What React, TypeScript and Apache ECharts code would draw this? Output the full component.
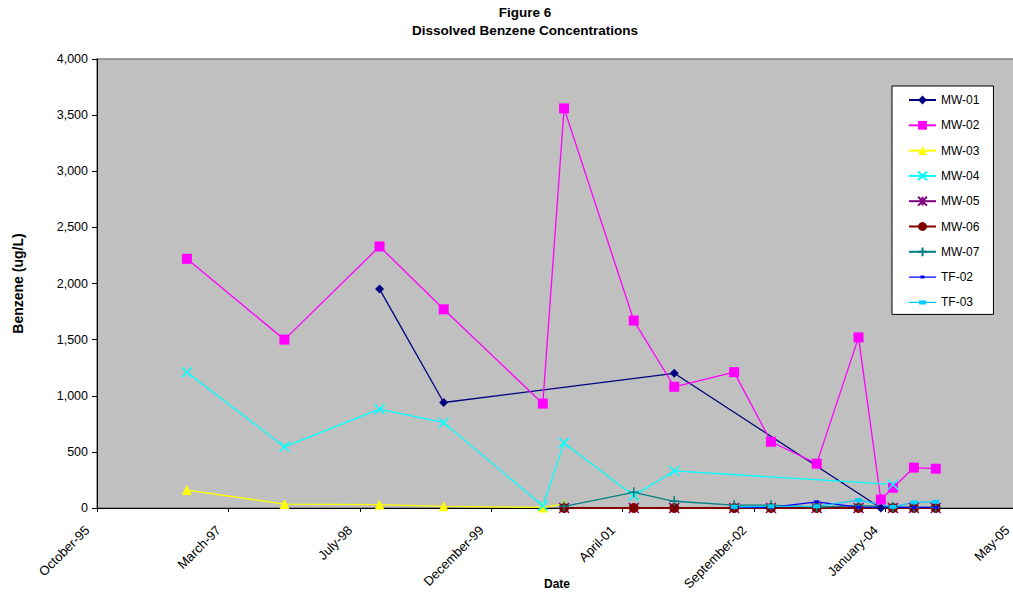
import React, { useEffect, useRef } from "react";
import * as echarts from "echarts";

const dates = [
  "1996-10-04", "1997-10-10", "1998-10-07", "1999-06-08", "2000-06-19", "2000-09-08",
  "2001-05-31", "2001-11-01", "2002-06-17", "2002-11-04", "2003-04-27", "2003-10-03",
  "2003-12-27", "2004-02-11", "2004-05-01", "2004-07-23",
];

const mw01 = [null, null, 1950, 940, null, null, null, 1200, null, null, null, null, 0, null, null, null];
const mw02 = [2220, 1500, 2330, 1770, 930, 3560, 1670, 1080, 1210, 590, 395, 1520, 75, 180, 360, 350];
const mw03 = [160, 35, 30, 15, 5, 35, null, null, null, null, null, null, null, null, null, null];
const mw04 = [1210, 545, 880, 760, 20, 580, 110, 330, null, null, null, null, null, 210, null, null];
const mw05 = [null, null, null, null, null, 0, 0, 0, 0, 0, 0, 0, null, 0, 0, 0];
const mw06 = [null, null, null, null, null, 0, 0, 0, 0, 0, 0, 0, null, 0, 0, 0];
const mw07 = [null, null, null, null, null, 15, 140, 60, 25, 25, 8, 22, null, 10, 5, 5];
const tf02 = [null, null, null, null, null, null, null, null, 5, 5, 55, 8, null, 5, 5, 5];
const tf03 = [null, null, null, null, null, null, null, null, 10, 15, 15, 70, null, 10, 50, 55];

const seriesNames = ["MW-01", "MW-02", "MW-03", "MW-04", "MW-05", "MW-06", "MW-07", "TF-02", "TF-03"];
const seriesValues = [mw01, mw02, mw03, mw04, mw05, mw06, mw07, tf02, tf03];

const xMin = 35000;
const xMax = 38500;
const xStep = 500;
const yMax = 4000;
const yStep = 500;

const monthNames = [
  "January", "February", "March", "April", "May", "June",
  "July", "August", "September", "October", "November", "December",
];

const EPOCH = Date.UTC(1899, 11, 30);
function toSerial(s: string) {
  const [y, m, d] = s.split("-").map(Number);
  return Math.round((Date.UTC(y, m - 1, d) - EPOCH) / 86400000);
}
function serialLabel(v: number) {
  const dt = new Date(EPOCH + v * 86400000);
  const yy = String(dt.getUTCFullYear() % 100).padStart(2, "0");
  return monthNames[dt.getUTCMonth()] + "-" + yy;
}

const FONT = "Liberation Sans, Arial, sans-serif";

const styles: any[] = [
  { color: "#000080", symbol: "diamond", size: 9, stroke: false, lw: 1.3 },
  { color: "#FF00FF", symbol: "rect", size: 10, stroke: false, lw: 1.3 },
  { color: "#FFFF00", symbol: "triangle", size: 10, stroke: false, lw: 1.3 },
  { color: "#00FFFF", symbol: "path://M0,0L10,10M10,0L0,10", size: 10, stroke: true, lw: 1.3 },
  { color: "#800080", symbol: "path://M0,0L10,10M10,0L0,10M5,0L5,10", size: 10, stroke: true, lw: 1.3 },
  { color: "#800000", symbol: "circle", size: 10, stroke: false, lw: 2 },
  { color: "#008080", symbol: "path://M5,0L5,10M0,5L10,5", size: 10, stroke: true, lw: 1.3 },
  { color: "#0000FF", symbol: "rect", size: [5, 3], stroke: false, lw: 1.3,
    legendIcon: "path://M0,6.4L27,6.4L27,7.6L0,7.6Z M11.5,5.5L15.5,5.5L15.5,8.5L11.5,8.5Z" },
  { color: "#00CCFF", symbol: "rect", size: [7, 4], stroke: false, lw: 1.3,
    legendIcon: "path://M0,6.4L27,6.4L27,7.6L0,7.6Z M10,5L17,5L17,9L10,9Z" },
];

export default function App() {
  const ref = useRef<HTMLDivElement>(null);
  useEffect(() => {
    if (!ref.current) return;
    const chart = echarts.init(ref.current, undefined, { renderer: "svg" });
    const serials = dates.map(toSerial);
    const series = seriesNames.map((name, i) => {
      const st = styles[i];
      const data: [number, number][] = [];
      seriesValues[i].forEach((v, j) => {
        if (v !== null && v !== undefined) data.push([serials[j], v as number]);
      });
      return {
        name,
        type: "line",
        data,
        symbol: st.symbol,
        symbolSize: st.size,
        showAllSymbol: true,
        lineStyle: { color: st.color, width: st.lw },
        itemStyle: {
          color: st.color,
          borderColor: st.color,
          borderWidth: st.stroke ? 1.5 : 0,
        },
        emphasis: { disabled: true },
      };
    });
    const legendData = seriesNames.map((name, i) =>
      styles[i].legendIcon ? { name, icon: styles[i].legendIcon } : { name }
    );
    chart.setOption({
      animation: false,
      textStyle: { fontFamily: FONT },
      graphic: [
        {
          type: "text",
          x: 525,
          y: 12,
          style: { text: "Figure 6", font: "bold 13.5px " + FONT, textAlign: "center", textVerticalAlign: "middle", fill: "#000" },
        },
        {
          type: "text",
          x: 525,
          y: 30,
          style: { text: "Dissolved Benzene Concentrations", font: "bold 13.5px " + FONT, textAlign: "center", textVerticalAlign: "middle", fill: "#000" },
        },
      ],
      grid: {
        left: 97,
        top: 59,
        right: 13,
        bottom: 86,
        outerBoundsMode: "none",
        containLabel: false,
        show: true,
        backgroundColor: "#C0C0C0",
        borderColor: "#808080",
        borderWidth: 1.5,
      },
      legend: {
        orient: "vertical",
        left: 892,
        top: 86,
        itemWidth: 27,
        itemHeight: 11,
        itemGap: 13.3,
        padding: [8, 14, 6, 16],
        backgroundColor: "#FFFFFF",
        borderColor: "#000000",
        borderWidth: 1,
        symbolKeepAspect: true,
        textStyle: { fontSize: 12, color: "#000", fontFamily: FONT },
        data: legendData,
      },
      xAxis: {
        type: "value",
        min: xMin,
        max: xMax,
        interval: xStep,
        name: "Date",
        nameLocation: "middle",
        nameGap: 70,
        nameMoveOverlap: false,
        nameTextStyle: { fontWeight: "bold", fontSize: 12, color: "#000", fontFamily: FONT },
        axisLine: { show: true, onZero: false, lineStyle: { color: "#000", width: 1 } },
        axisTick: { show: true, length: 4, lineStyle: { color: "#000" } },
        axisLabel: {
          rotate: 45,
          fontSize: 13,
          color: "#000",
          margin: 10,
          padding: [0, 14, 0, 0],
          fontFamily: FONT,
          formatter: (v: number) => serialLabel(v),
        },
        splitLine: { show: false },
      },
      yAxis: {
        type: "value",
        min: 0,
        max: yMax,
        interval: yStep,
        name: "Benzene (ug/L)",
        nameLocation: "middle",
        nameGap: 72,
        nameMoveOverlap: false,
        nameTextStyle: { fontWeight: "bold", fontSize: 14, color: "#000", fontFamily: FONT },
        axisLine: { show: true, lineStyle: { color: "#000", width: 1 } },
        axisTick: { show: true, length: 5, lineStyle: { color: "#000" } },
        axisLabel: {
          fontSize: 12.5,
          color: "#000",
          margin: 9,
          fontFamily: FONT,
          formatter: (v: number) => v.toLocaleString("en-US"),
        },
        splitLine: { show: false },
      },
      series,
    });
    return () => chart.dispose();
  }, []);
  return (
    <div style={{ position: "absolute", left: 0, top: 0, width: 1013, height: 594, overflow: "hidden", background: "#fff" }}>
      <div ref={ref} style={{ width: 1030, height: 594 }} />
    </div>
  );
}
